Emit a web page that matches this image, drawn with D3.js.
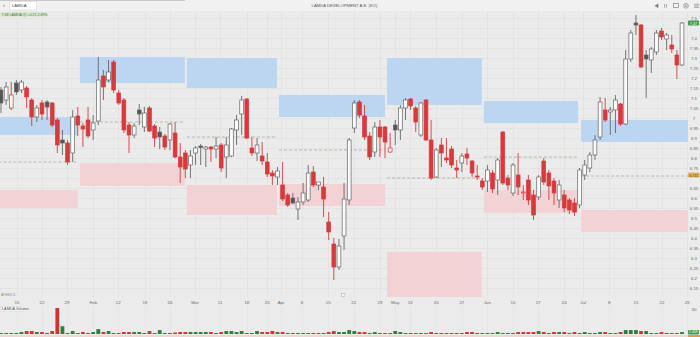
<!DOCTYPE html>
<html lang="en">
<head>
<meta charset="utf-8">
<title>LAMDA DEVELOPMENT A.E. (KO)</title>
<script src="https://d3js.org/d3.v7.min.js"></script>
<style>
  body { margin: 0; background: #ebebeb; }
  svg text { font-family: "Liberation Sans", Arial, sans-serif; }
</style>
</head>
<body>
<svg id="chart" width="700" height="337"></svg>
<script>
// daily candles, index 0..133
const opens = [7.14,7.09,7.05,7.175,7.14,7.15,7.09,7.005,7.075,7.08,7.075,6.99,6.89,6.875,6.825,7.01,6.96,6.99,6.94,6.985,
  7.21,7.19,7.28,7.125,7.09,6.965,6.915,7.04,6.955,7.05,6.96,6.93,6.91,6.89,6.925,6.805,6.825,6.765,6.825,6.86,
  6.845,6.855,6.845,6.865,6.805,6.81,6.94,7.02,7.095,6.85,6.825,6.81,6.78,6.725,6.705,6.665,6.615,6.60,6.545,6.58,
  6.59,6.73,6.665,6.655,6.48,6.37,6.255,6.41,6.59,6.95,7.08,7.01,6.91,6.83,6.955,6.955,6.83,6.965,6.94,7.05,
  7.095,7.05,6.915,7.09,6.89,6.705,6.865,6.80,6.845,6.75,6.775,6.82,6.785,6.71,6.685,6.685,6.725,6.69,6.93,6.70,
  6.625,6.715,6.625,6.69,6.615,6.605,6.785,6.725,6.685,6.59,6.615,6.59,6.575,6.565,6.715,6.75,6.815,6.905,7.04,7.03,
  7.04,7.07,6.97,7.295,7.475,7.465,7.315,7.29,7.33,7.435,7.395,7.365,7.315,7.265];
const highs = [7.155,7.18,7.18,7.19,7.19,7.16,7.10,7.065,7.09,7.09,7.08,7.0,6.94,6.89,7.04,7.055,6.975,7.055,7.015,7.305,
  7.24,7.29,7.29,7.14,7.10,6.98,6.975,7.07,7.055,7.06,6.97,6.955,6.92,6.975,6.98,6.875,6.84,6.84,6.86,6.87,
  6.86,6.86,6.905,6.875,6.905,6.95,7.015,7.11,7.10,6.905,6.90,6.88,6.825,6.74,6.755,6.78,6.625,6.625,6.605,6.675,
  6.765,6.76,6.68,6.705,6.53,6.40,6.395,6.675,6.90,7.09,7.09,7.065,6.93,6.98,6.99,6.96,6.925,6.99,7.065,7.10,
  7.10,7.06,7.08,7.095,6.99,6.85,6.90,6.90,6.86,6.79,6.825,6.85,6.79,6.765,6.70,6.765,6.74,6.80,6.935,6.715,
  6.775,6.825,6.665,6.715,6.64,6.715,6.80,6.74,6.70,6.69,6.64,6.60,6.60,6.75,6.79,6.83,6.915,7.105,7.10,7.055,
  7.115,7.075,7.34,7.44,7.515,7.47,7.34,7.355,7.44,7.45,7.425,7.415,7.34,7.48];
const lows = [7.025,7.065,7.04,7.115,7.125,7.05,6.96,6.98,6.99,6.99,6.955,6.825,6.815,6.765,6.78,6.91,6.855,6.90,6.89,6.965,
  7.09,7.18,7.125,7.065,6.925,6.825,6.90,6.965,6.93,6.93,6.855,6.845,6.84,6.84,6.80,6.675,6.70,6.70,6.765,6.765,
  6.755,6.78,6.80,6.73,6.70,6.805,6.865,6.915,6.895,6.81,6.785,6.765,6.705,6.665,6.665,6.585,6.555,6.57,6.49,6.565,
  6.58,6.655,6.64,6.505,6.39,6.19,6.24,6.34,6.565,6.925,7.0,6.89,6.79,6.805,6.805,6.80,6.825,6.865,6.89,6.99,
  7.04,6.93,6.905,6.885,6.69,6.70,6.755,6.775,6.75,6.70,6.73,6.765,6.705,6.69,6.64,6.63,6.625,6.615,6.665,6.64,
  6.61,6.615,6.59,6.565,6.49,6.59,6.665,6.59,6.565,6.55,6.53,6.52,6.51,6.55,6.69,6.73,6.79,6.89,6.98,6.915,
  6.925,6.96,6.965,7.28,7.415,7.25,7.10,7.225,7.315,7.39,7.34,7.325,7.195,7.26];
const closes = [7.075,7.155,7.115,7.13,7.18,7.105,7.005,7.05,7.02,7.055,6.965,6.865,6.875,6.78,7.005,6.965,6.945,6.91,6.975,7.19,
  7.155,7.23,7.14,7.075,6.94,6.915,6.96,7.02,7.025,6.935,6.90,6.905,6.855,6.97,6.805,6.755,6.745,6.81,6.85,6.852,
  6.855,6.845,6.86,6.75,6.865,6.945,6.99,7.09,6.90,6.825,6.865,6.785,6.72,6.71,6.735,6.595,6.565,6.575,6.58,6.625,
  6.725,6.665,6.68,6.595,6.43,6.255,6.36,6.595,6.89,7.075,7.015,6.905,6.805,6.955,6.905,6.88,6.85,6.94,7.05,7.09,
  7.06,6.98,7.075,6.89,6.70,6.84,6.825,6.79,6.765,6.74,6.81,6.80,6.725,6.705,6.655,6.74,6.645,6.79,6.675,6.665,
  6.765,6.655,6.63,6.59,6.515,6.705,6.68,6.66,6.625,6.665,6.55,6.54,6.53,6.74,6.765,6.815,6.89,7.08,6.99,7.04,
  7.09,6.97,7.295,7.425,7.465,7.255,7.295,7.345,7.425,7.405,7.415,7.345,7.265,7.475];
// volume, thousands
const volumes = [1.2,1.2,1.2,1.2,2.4,3.6,3.6,2.4,2.4,1.2,3.6,32,9.6,1.2,3.6,1.2,2.4,1.2,2.4,6,
  2.4,3.6,1.2,1.2,2.4,2.4,2.4,2.4,1.2,3.6,1.2,4.8,1.2,1.2,1.8,2.4,2.4,2.4,2.4,2.4,
  2.4,2.4,1.2,2.4,3.6,3.6,2.4,3.6,1.2,1.2,3.6,2.4,2.4,3.6,2.4,2.4,1.2,1.2,1.2,1.2,
  1.2,1.2,1.2,1.2,2.4,3.6,2.4,2.4,4.8,3.6,2.4,2.4,1.2,2.4,1.2,1.2,1.2,3.6,2.4,1.2,
  1.2,1.2,1.2,1.2,2.4,1.2,1.2,1.2,1.2,1.2,1.2,2.4,2.4,1.2,1.2,1.2,1.2,2.4,1.2,1.2,
  1.2,2.4,2.4,2.4,2.4,3.6,2.4,1.2,2.4,2.4,2.4,1.2,2.4,1.2,2.4,1.2,1.2,2.4,2.4,1.2,
  1.2,2.4,4.8,4.8,4.8,3.6,3.6,1.2,1.2,2.4,1.2,1.2,1.2,2.4];

// x-axis: weekly ticks (bar index) and their labels
const tickIndex = [3.1,8,12.9,18,22.9,28.1,33,37.9,42.8,48,52,54.7,58.8,63.9,68.9,74,77,79.9,85,90,95,100,104.9,110,113.7,118.8,124,129.1,134];
const tickLabels = ["15","22","29","Feb","12","19","26","Mar","11","18","25","Apr","8","15","22","29","May","13","20","27","Jun","10","17","24","Jul","8","15","22","29"];

const priceTicks = [6.15,6.2,6.25,6.3,6.35,6.4,6.45,6.5,6.55,6.6,6.65,6.7,6.75,6.8,6.85,6.9,6.95,7,7.05,7.1,7.15,7.2,7.25,7.3,7.35,7.4,7.45,7.5];

// monthly zones: bar-index bounds, resistance band, support band, mid line
const zoneFrom = [-0.5,15.4,36.3,54.3,75.4,94.3,113.3];
const zoneTo   = [15.0,35.9,53.9,75.0,93.9,112.7,134.2];
const resistTop = [7.005,7.305,7.30,7.115,7.30,7.085,6.99];
const resistBot = [6.915,7.175,7.15,7.005,7.065,6.975,6.88];
const supportTop = [6.64,6.775,6.665,6.67,6.33,6.64,6.54];
const supportBot = [6.55,6.66,6.515,6.56,6.105,6.525,6.43];
const midLevel = [6.78,6.98,6.905,6.84,6.70,6.805,6.71];

const lastLine = 6.715;

const W = 700, H = 337;
const plot = {left: 0, right: 688, top: 11, bottom: 297};
const vol = {top: 305, bottom: 334};

const svg = d3.select("#chart");

const x = d3.scaleLinear().domain([0, 133]).range([1, 682]);
const y = d3.scaleLinear().domain([6.105, 7.535]).range([plot.bottom, plot.top]);
const yv = d3.scaleLinear().domain([0, 32]).range([vol.bottom, vol.bottom - 26]);

const RED = "#d63a3c", GRAY = "#666", DARK = "#555";
const GREENV = "#2f7d3a", REDV = "#cf3336";

// backgrounds
svg.append("rect").attr("width", W).attr("height", H).attr("fill", "#ebebeb");
svg.append("rect").attr("width", W).attr("height", 11).attr("fill", "#f1f1f1");
svg.append("line").attr("x1", 0).attr("x2", 185).attr("y1", 0.5).attr("y2", 0.5)
  .attr("stroke", "#c9c9c9").attr("stroke-width", 1);

svg.append("defs").append("clipPath").attr("id", "plotclip")
  .append("rect").attr("x", plot.left).attr("y", plot.top)
  .attr("width", plot.right - plot.left).attr("height", plot.bottom - plot.top);

// grid
const grid = svg.append("g");
grid.selectAll(".hg").data(priceTicks).join("line")
  .attr("x1", 0).attr("x2", plot.right)
  .attr("y1", d => Math.round(y(d)) + 0.5).attr("y2", d => Math.round(y(d)) + 0.5)
  .attr("stroke", "#dedede").attr("stroke-width", 0.6);
grid.selectAll(".vg").data(tickIndex).join("line")
  .attr("x1", d => Math.round(x(d)) + 0.5).attr("x2", d => Math.round(x(d)) + 0.5)
  .attr("y1", plot.top).attr("y2", plot.bottom)
  .attr("stroke", "#dedede").attr("stroke-width", 0.6);
grid.selectAll(".vgv").data(tickIndex).join("line")
  .attr("x1", d => Math.round(x(d)) + 0.5).attr("x2", d => Math.round(x(d)) + 0.5)
  .attr("y1", vol.top).attr("y2", vol.bottom)
  .attr("stroke", "#e0e0e0").attr("stroke-width", 0.6);

// zones
const zones = d3.range(zoneFrom.length);
const zg = svg.append("g").attr("clip-path", "url(#plotclip)");
zg.selectAll(".rz").data(zones).join("rect")
  .attr("x", i => x(zoneFrom[i])).attr("width", i => x(zoneTo[i]) - x(zoneFrom[i]))
  .attr("y", i => y(resistTop[i])).attr("height", i => y(resistBot[i]) - y(resistTop[i]))
  .attr("fill", "#bcd5f1");
zg.selectAll(".sz").data(zones).join("rect")
  .attr("x", i => x(zoneFrom[i])).attr("width", i => x(zoneTo[i]) - x(zoneFrom[i]))
  .attr("y", i => y(supportTop[i])).attr("height", i => y(supportBot[i]) - y(supportTop[i]))
  .attr("fill", "#f2d2d5");
zg.selectAll(".ml").data(zones).join("line")
  .attr("x1", i => x(zoneFrom[i])).attr("x2", i => x(zoneTo[i]))
  .attr("y1", i => y(midLevel[i])).attr("y2", i => y(midLevel[i]))
  .attr("stroke", "#a3a08a").attr("stroke-width", 0.7).attr("stroke-dasharray", "3,2");

// candles
const bars = d3.range(opens.length).map(i => {
  const up = closes[i] >= opens[i];
  const rising = i === 0 ? true : closes[i] >= closes[i - 1];
  return {i, o: opens[i], h: highs[i], l: lows[i], c: closes[i], up, rising};
});
const bw = 3.8;
const cg = svg.append("g").attr("clip-path", "url(#plotclip)");
const candle = cg.selectAll(".c").data(bars).join("g");
candle.append("line")
  .attr("x1", d => x(d.i)).attr("x2", d => x(d.i))
  .attr("y1", d => y(d.h)).attr("y2", d => y(d.l))
  .attr("stroke", d => d.rising ? GRAY : RED).attr("stroke-width", 0.9);
candle.append("rect")
  .attr("x", d => x(d.i) - bw / 2).attr("width", bw)
  .attr("y", d => y(Math.max(d.o, d.c)))
  .attr("height", d => Math.max(0.9, Math.abs(y(d.o) - y(d.c))))
  .attr("fill", d => d.up ? "#fafafa" : (d.rising ? DARK : RED))
  .attr("stroke", d => d.rising ? GRAY : RED).attr("stroke-width", 0.7);

// right price axis
const axisG = svg.append("g").attr("font-size", 4.4).attr("fill", "#6a6a6a").attr("text-anchor", "middle");
const lastClose = closes[closes.length - 1];
axisG.selectAll("text").data(priceTicks.filter(p => y(p) > plot.top + 3 && Math.abs(y(p) - y(lastClose)) > 5 && Math.abs(y(p) - y(lastLine)) > 4))
  .join("text")
  .attr("x", 694).attr("y", d => y(d) + 1.6)
  .text(d => d3.format("~g")(+d.toFixed(2)));

// last price label (green) and level label (gold)
svg.append("rect").attr("x", 688).attr("y", y(lastClose) - 2.4).attr("width", 11).attr("height", 4.8)
  .attr("rx", 0.8).attr("fill", "#3d9b4b");
svg.append("text").attr("x", 693.5).attr("y", y(lastClose) + 1.5).attr("font-size", 3.8)
  .attr("text-anchor", "middle").attr("fill", "#fff").text(d3.format(".2f")(lastClose));
svg.append("rect").attr("x", 688).attr("y", y(lastLine) - 2.4).attr("width", 11.5).attr("height", 4.8)
  .attr("rx", 0.8).attr("fill", "#e3b35a");
svg.append("text").attr("x", 693.8).attr("y", y(lastLine) + 1.5).attr("font-size", 3.6)
  .attr("text-anchor", "middle").attr("fill", "#4a3a10").text(d3.format(".3f")(lastLine));

// x axis labels
svg.append("g").attr("font-size", 4.4).attr("fill", "#6a6a6a").attr("text-anchor", "middle")
  .selectAll("text").data(tickIndex).join("text")
  .attr("x", d => x(d)).attr("y", 303.5)
  .text((d, k) => tickLabels[k]);

// volume bars
svg.append("g").selectAll("rect").data(bars).join("rect")
  .attr("x", d => x(d.i) - bw / 2).attr("width", bw)
  .attr("y", d => yv(volumes[d.i]))
  .attr("height", d => yv(0) - yv(volumes[d.i]))
  .attr("fill", d => d.rising ? GREENV : REDV);
svg.append("text").attr("x", 694).attr("y", yv(30) + 1.6).attr("font-size", 4.4)
  .attr("fill", "#6a6a6a").attr("text-anchor", "middle").text("30");
svg.append("rect").attr("x", 688).attr("y", 330).attr("width", 11).attr("height", 4.4)
  .attr("rx", 0.8).attr("fill", "#3d9b4b");
svg.append("text").attr("x", 693.5).attr("y", 333.4).attr("font-size", 3.4)
  .attr("text-anchor", "middle").attr("fill", "#fff").text(d3.format(".2f")(volumes[volumes.length - 1]) + "K");
svg.append("rect").attr("x", 0).attr("y", 335).attr("width", 688).attr("height", 2).attr("fill", "#f0d7d7");
svg.append("rect").attr("x", 688).attr("y", 335).attr("width", 12).attr("height", 2).attr("fill", "#e49a4a");

// panel labels
svg.append("rect").attr("x", 0.5).attr("y", 306.5).attr("width", 23).attr("height", 5).attr("fill", "#f4f4f4")
  .attr("stroke", "#d6d6d6").attr("stroke-width", 0.4);
svg.append("text").attr("x", 2).attr("y", 310.3).attr("font-size", 3.8).attr("fill", "#555").text("LAMDA Volume");
svg.append("text").attr("x", 1).attr("y", 296).attr("font-size", 3.4).attr("fill", "#888").text("ATHEX D");
svg.append("rect").attr("x", 341.5).attr("y", 293.5).attr("width", 3.5).attr("height", 3)
  .attr("fill", "#f5f5f5").attr("stroke", "#999").attr("stroke-width", 0.4);

// header
svg.append("text").attr("x", 3).attr("y", 7.3).attr("font-size", 6).attr("fill", "#666").text("‹");
svg.append("rect").attr("x", 9.5).attr("y", 1.5).attr("width", 27).attr("height", 8.5)
  .attr("fill", "#fff").attr("stroke", "#cfcfcf").attr("stroke-width", 0.5);
svg.append("text").attr("x", 12).attr("y", 7.3).attr("font-size", 4.2).attr("fill", "#444").text("LAMDA");
svg.append("text").attr("x", 344.5).attr("y", 6.8).attr("font-size", 4.2).attr("fill", "#555")
  .attr("text-anchor", "middle").text("LAMDA DEVELOPMENT A.E. (KO)");
svg.append("rect").attr("x", 0.5).attr("y", 12).attr("width", 46.5).attr("height", 4.6).attr("fill", "#d7e8cf");
svg.append("text").attr("x", 1.5).attr("y", 15.5).attr("font-size", 3.6).attr("fill", "#3e7a3a")
  .text("7.48 LAMDA @ +0.21 2.89%");

// toolbar icons
const icons = svg.append("g").attr("fill", "none").attr("stroke", "#777").attr("stroke-width", 0.6);
icons.append("path").attr("d", "M658,4 L655,5.8 L658,7.6 Z").attr("fill", "#777");
icons.append("path").attr("d", "M664.5,4 v3.6 M666.5,4 v3.6");
icons.append("rect").attr("x", 673.5).attr("y", 3.5).attr("width", 5).attr("height", 4);
icons.append("circle").attr("cx", 686).attr("cy", 5.8).attr("r", 2.4);
icons.append("path").attr("d", "M684.7,5.2 h2.6 M684.7,6.4 h2.6");
icons.append("path").attr("d", "M694,4.2 h5 M694,5.8 h5 M694,7.4 h5");
</script>
</body>
</html>
